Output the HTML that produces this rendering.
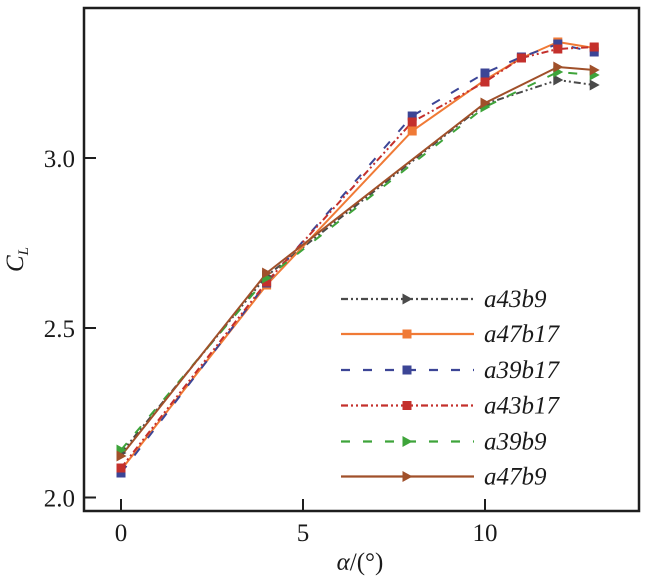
<!DOCTYPE html>
<html><head><meta charset="utf-8"><style>
html,body{margin:0;padding:0;background:#fff;}
svg{display:block;}
text{font-family:"Liberation Serif","DejaVu Serif",serif;fill:#1a1a1a;}
</style></head><body>
<svg width="650" height="579" viewBox="0 0 650 579" xmlns="http://www.w3.org/2000/svg" font-family="Liberation Serif, serif">
<defs>
<g id="sq"><rect x="-4.5" y="-4.5" width="9" height="9"/></g>
<g id="tri"><polygon points="-4.5,-5.5 5.5,0 -4.5,5.5"/></g>
</defs>
<rect width="650" height="579" fill="#fff"/>

<!-- series -->
<g fill="none" stroke-width="2" stroke-linejoin="round">
<polyline stroke="#4a4a4a" stroke-dasharray="7,3,2,3,2,3" points="121,453 266.6,276 485,104 557.8,80 594.2,85"/>
<polyline stroke="#f07a36" points="121,470 266.6,285 412.2,131 485,80 521.4,58 557.8,42 594.2,48"/>
<polyline stroke="#3c4596" stroke-dasharray="9,13" points="121,473 266.6,283 412.2,116 485,73 521.4,57 557.8,44 594.2,52"/>
<polyline stroke="#c4302c" stroke-dasharray="7,3,2,3,2,3" points="121,468 266.6,282 412.2,122 485,82 521.4,58 557.8,49 594.2,47"/>
<polyline stroke="#3ea43a" stroke-dasharray="9,13" points="121,450 266.6,278 485,107 557.8,72 594.2,75"/>
<polyline stroke="#a0502a" points="121,456 266.6,273 485,103 557.8,67 594.2,70"/>
</g>
<!-- markers -->
<g fill="#4a4a4a">
<use href="#tri" x="121" y="453"/><use href="#tri" x="266.6" y="276"/><use href="#tri" x="485" y="104"/><use href="#tri" x="557.8" y="80"/><use href="#tri" x="594.2" y="85"/>
</g>
<g fill="#f07a36">
<use href="#sq" x="121" y="470"/><use href="#sq" x="266.6" y="285"/><use href="#sq" x="412.2" y="131"/><use href="#sq" x="485" y="80"/><use href="#sq" x="521.4" y="58"/><use href="#sq" x="557.8" y="42"/><use href="#sq" x="594.2" y="48"/>
</g>
<g fill="#3c4596">
<use href="#sq" x="121" y="473"/><use href="#sq" x="266.6" y="283"/><use href="#sq" x="412.2" y="116"/><use href="#sq" x="485" y="73"/><use href="#sq" x="521.4" y="57"/><use href="#sq" x="557.8" y="44"/><use href="#sq" x="594.2" y="52"/>
</g>
<g fill="#c4302c">
<use href="#sq" x="121" y="468"/><use href="#sq" x="266.6" y="282"/><use href="#sq" x="412.2" y="122"/><use href="#sq" x="485" y="82"/><use href="#sq" x="521.4" y="58"/><use href="#sq" x="557.8" y="49"/><use href="#sq" x="594.2" y="47"/>
</g>
<g fill="#3ea43a">
<use href="#tri" x="121" y="450"/><use href="#tri" x="266.6" y="278"/><use href="#tri" x="485" y="107"/><use href="#tri" x="557.8" y="72"/><use href="#tri" x="594.2" y="75"/>
</g>
<g fill="#a0502a">
<use href="#tri" x="121" y="456"/><use href="#tri" x="266.6" y="273"/><use href="#tri" x="485" y="103"/><use href="#tri" x="557.8" y="67"/><use href="#tri" x="594.2" y="70"/>
</g>

<!-- legend -->
<g fill="none" stroke-width="2.2">
<line x1="341" y1="299" x2="474" y2="299" stroke="#4a4a4a" stroke-dasharray="7,3,2,3,2,3"/>
<line x1="341" y1="334" x2="474" y2="334" stroke="#f07a36"/>
<line x1="341" y1="370" x2="474" y2="370" stroke="#3c4596" stroke-dasharray="9,13"/>
<line x1="341" y1="405.5" x2="474" y2="405.5" stroke="#c4302c" stroke-dasharray="7,3,2,3,2,3"/>
<line x1="341" y1="441.5" x2="474" y2="441.5" stroke="#3ea43a" stroke-dasharray="9,13"/>
<line x1="341" y1="476.5" x2="474" y2="476.5" stroke="#a0502a"/>
</g>
<use href="#tri" x="407" y="299" fill="#4a4a4a"/>
<use href="#sq" x="407" y="334" fill="#f07a36"/>
<use href="#sq" x="407" y="370" fill="#3c4596"/>
<use href="#sq" x="407" y="405.5" fill="#c4302c"/>
<use href="#tri" x="407" y="441.5" fill="#3ea43a"/>
<use href="#tri" x="407" y="476.5" fill="#a0502a"/>
<g font-size="25" font-style="italic">
<text x="484" y="307">a43b9</text>
<text x="484" y="342">a47b17</text>
<text x="484" y="378">a39b17</text>
<text x="484" y="413.5">a43b17</text>
<text x="484" y="449.5">a39b9</text>
<text x="484" y="484.5">a47b9</text>
</g>

<!-- axes frame -->
<rect x="84" y="8" width="555" height="503" fill="none" stroke="#1e1e1e" stroke-width="2.5"/>
<!-- ticks -->
<g stroke="#1e1e1e" stroke-width="2">
<line x1="84" y1="158" x2="96" y2="158"/>
<line x1="84" y1="328" x2="96" y2="328"/>
<line x1="84" y1="497.5" x2="96" y2="497.5"/>
<line x1="121" y1="511" x2="121" y2="499"/>
<line x1="303" y1="511" x2="303" y2="499"/>
<line x1="485" y1="511" x2="485" y2="499"/>
</g>
<g font-size="25">
<text x="75" y="167" text-anchor="end">3.0</text>
<text x="75" y="337" text-anchor="end">2.5</text>
<text x="75" y="506.5" text-anchor="end">2.0</text>
<text x="121" y="541" text-anchor="middle">0</text>
<text x="303" y="541" text-anchor="middle">5</text>
<text x="485" y="541" text-anchor="middle">10</text>
<text x="360" y="570" text-anchor="middle"><tspan font-style="italic">α</tspan>/(°)</text>
</g>
<g transform="translate(23,272) rotate(-90)">
<text x="0" y="0" font-size="25" font-style="italic">C<tspan font-size="15" dy="5">L</tspan></text>
</g>
</svg>
</body></html>
